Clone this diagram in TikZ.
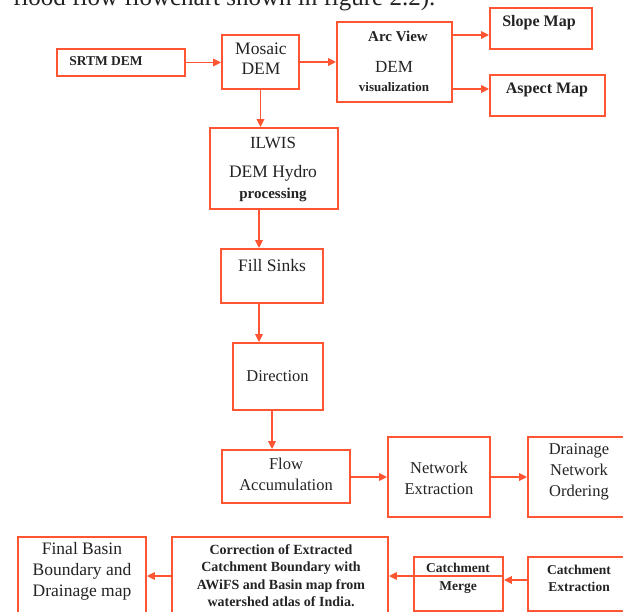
\documentclass[tikz,border=0pt]{standalone}
\usepackage{fontspec}
\setmainfont{Liberation Serif}
\usetikzlibrary{arrows.meta}
\definecolor{fc}{RGB}{255,85,50}
\definecolor{tc}{RGB}{35,35,35}
\begin{document}
\begin{tikzpicture}[x=1pt,y=-1pt,
 box/.style={draw=fc,line width=1.8pt,inner sep=0pt},
 arr/.style={draw=fc,line width=1.7pt,-{Triangle[length=8pt,width=7.5pt]}},
 txt/.style={text=tc,inner sep=0pt,align=center},
 fr/.style={font=\fontsize{#1}{21}\selectfont},
 fb/.style={font=\fontsize{#1}{17.5}\selectfont\bfseries}]
\useasboundingbox (0,0) rectangle (623,612);
\clip (0,0) rectangle (623,612);
% top cut-off line of page text
\node[txt,anchor=base west,font=\fontsize{25}{30}\selectfont] (toptext) at (13,6) {flood flow flowchart shown in figure 2.2).};
% boxes
\node[box,minimum width=128,minimum height=27] (srtm) at (121,62.5) {};
\node[box,minimum width=77,minimum height=54] (mosaic) at (260.5,62) {};
\node[box,minimum width=115,minimum height=80] (arcview) at (394.5,62) {};
\node[box,minimum width=102,minimum height=41] (slope) at (541,28.5) {};
\node[box,minimum width=115,minimum height=41] (aspect) at (547.5,95.5) {};
\node[box,minimum width=128,minimum height=81] (ilwis) at (274,168.5) {};
\node[box,minimum width=102,minimum height=54] (fill) at (272,276) {};
\node[box,minimum width=90,minimum height=67] (direction) at (278,376.5) {};
\node[box,minimum width=128,minimum height=53] (flow) at (286,476.5) {};
\node[box,minimum width=102,minimum height=80] (network) at (439,477) {};
\node[box,minimum width=102,minimum height=80] (drainage) at (579,477) {};
\node[box,minimum width=128,minimum height=83] (final) at (82,578.5) {};
\node[box,minimum width=216,minimum height=83] (correction) at (280,578.5) {};
\node[box,minimum width=89,minimum height=54] (merge) at (458.5,584) {};
\node[box,minimum width=102,minimum height=54] (extraction) at (579,584) {};
% texts
\node[txt,fb=13.5] (tsrtm) at (106,61) {SRTM DEM};
\node[txt,fr=17.5] (tmosaic) at (261,59) {Mosaic\\[-1pt]DEM};
\node[txt,fb=15] (tarc1) at (398,36) {Arc View};
\node[txt,fr=17] (tarc2) at (394,67) {DEM};
\node[txt,fb=13] (tarc3) at (394,87) {visualization};
\node[txt,fb=16] (tslope) at (539,23) {Slope Map};
\node[txt,fb=16] (taspect) at (547,90) {Aspect Map};
\node[txt,fr=17] (tilwis1) at (273,143) {ILWIS};
\node[txt,fr=17.5] (tilwis2) at (273,173) {DEM Hydro};
\node[txt,fb=15] (tilwis3) at (273,195) {processing};
\node[txt,fr=17.5] (tfill) at (272,266) {Fill Sinks};
\node[txt,fr=16.5] (tdir) at (277.5,376) {Direction};
\node[txt,fr=16.5] (tflow) at (286,474.5) {Flow\\Accumulation};
\node[txt,fr=16.5] (tnet) at (439,478.5) {Network\\Extraction};
\node[txt,fr=16.5] (tdrain) at (579,472) {Drainage\\Network\\Ordering};
\node[txt,fr=17.5] (tfinal) at (82,571) {Final Basin\\Boundary and\\Drainage map};
\node[txt,fb=14] (tcorr) at (281,575.5) {Correction of Extracted\\Catchment Boundary with\\AWiFS and Basin map from\\watershed atlas of India.};
\node[txt,fb=13.5] (tmerge) at (458,578.5) {Catchment\\Merge};
\node[txt,fb=13.5] (textr) at (579,578.5) {Catchment\\Extraction};
% arrows
\draw[arr] (srtm.east) -- (srtm.east -| mosaic.west);
\draw[arr] (mosaic.east) -- (mosaic.east -| arcview.west);
\draw[arr] (arcview.east |- 0,35) -- (slope.west |- 0,35);
\draw[arr] (arcview.east |- 0,89) -- (aspect.west |- 0,89);
\draw[arr] (mosaic.south) -- (mosaic.south |- ilwis.north);
\draw[arr] ([xshift=-15pt]ilwis.south) -- ([xshift=-15pt]ilwis.south |- fill.north);
\draw[arr] ([xshift=-13pt]fill.south) -- ([xshift=-13pt]fill.south |- direction.north);
\draw[arr] ([xshift=-6pt]direction.south) -- ([xshift=-6pt]direction.south |- flow.north);
\draw[arr] (flow.east |- network.west) -- (network.west);
\draw[arr] (network.east) -- (drainage.west);
\draw[arr] (extraction.west |- 0,580) -- (merge.east |- 0,580);
\draw[arr] (merge.east |- 0,576) -- (correction.east |- 0,576);
\draw[arr] (correction.west |- 0,576) -- (final.east |- 0,576);
\end{tikzpicture}
\end{document}
